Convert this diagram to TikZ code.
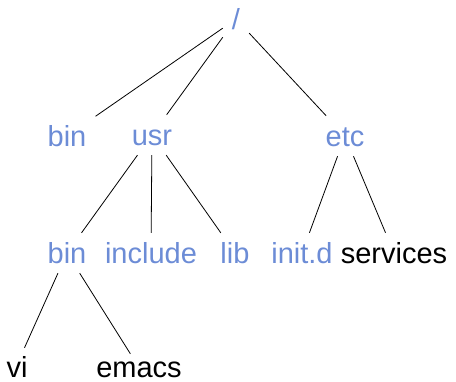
\documentclass[tikz,border=0pt]{standalone}
\usepackage{fontspec}
\setmainfont{Liberation Sans}
\definecolor{dirblue}{RGB}{108,140,214}
\begin{document}
\begin{tikzpicture}[x=1pt,y=-1pt,
  entry/.style={font=\fontsize{29}{34}\selectfont, text height=24pt, text depth=4pt,
                inner xsep=9pt, inner ysep=6pt, anchor=base},
  dir/.style={entry, text=dirblue},
  file/.style={entry, text=black},
  leaf/.style={file, text depth=0pt, inner ysep=4pt},
  branch/.style={draw=black, line width=0.8pt}]
\useasboundingbox (0,0) rectangle (456,381);
% directory tree, one row per level
\node[dir]  (root)    at (236,29)  {/};
\node[dir]  (bin)     at (67,146)  {bin};
\node[dir]  (usr)     at (152,145) {usr};
\node[dir]  (etc)     at (345,146) {etc};
\node[dir]  (usrbin)  at (67,263)  {bin};
\node[dir]  (include) at (151,263) {include};
\node[dir]  (lib)     at (235,263) {lib};
\node[dir]  (initd)   at (302,263) {init.d};
\node[file] (services) at (394,263) {services};
\node[leaf, text height=25pt] (vi)    at (17,377)  {vi};
\node[leaf, text height=19pt] (emacs) at (139,377) {emacs};
% branches
\draw[branch] (root) -- (bin);
\draw[branch] (root) -- (usr);
\draw[branch] (root) -- (etc);
\draw[branch] (usr) -- (usrbin);
\draw[branch] (usr) -- (include);
\draw[branch] (usr) -- (lib);
\draw[branch] (etc) -- (initd);
\draw[branch] (etc) -- (services);
\draw[branch] (usrbin) -- (vi);
\draw[branch] (usrbin) -- (emacs);
\end{tikzpicture}
\end{document}
